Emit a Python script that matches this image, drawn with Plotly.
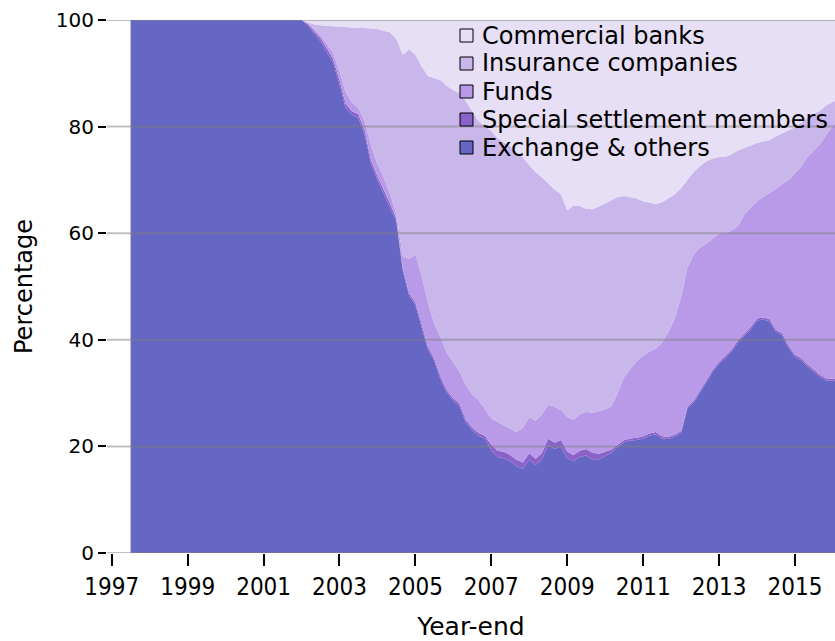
import plotly.graph_objects as go

dates = ["1997-07-01"] + [f"{y}-{m:02d}-01" for y in range(2002, 2016) for m in (1, 3, 5, 7, 9, 11)] + ["2016-01-31"]

exchange = [100, 100, 99.0, 97.5, 96.0, 94.0, 92.0,
            88.0, 83.5, 82.2, 81.6, 78.5, 73.0,
            70.0, 67.5, 65.0, 62.2, 53.0, 48.3,
            46.5, 42.5, 38.2, 36.0, 32.5, 30.0,
            28.5, 27.5, 24.5, 23.0, 22.0, 21.5,
            19.3, 18.0, 17.8, 17.2, 16.3, 15.8,
            17.5, 16.5, 17.5, 20.3, 19.5, 20.0,
            17.8, 17.2, 18.0, 18.3, 17.6, 17.6,
            18.2, 18.8, 19.9, 20.8, 21.1, 21.2,
            21.5, 22.0, 22.3, 21.5, 21.4, 21.8,
            22.5, 27.0, 28.2, 30.0, 32.0, 34.0,
            35.5, 36.5, 37.8, 39.5, 40.8, 42.0,
            43.6, 43.8, 43.5, 41.5, 40.8, 38.5,
            36.8, 36.2, 35.0, 34.0, 33.0, 32.3,
            32.3]

special = [0, 0, 0.3, 0.5, 0.6, 0.7, 0.7,
           0.8, 0.8, 0.7, 0.7, 0.7, 0.7,
           0.7, 0.7, 0.6, 0.5, 0.5, 0.5,
           0.5, 0.5, 0.5, 0.5, 0.5, 0.5,
           0.5, 0.5, 0.5, 0.5, 0.5, 0.5,
           1.0, 1.2, 1.2, 1.2, 1.2, 1.2,
           1.2, 1.2, 1.2, 1.2, 1.2, 1.2,
           1.2, 1.2, 1.2, 1.2, 1.2, 1.0,
           0.8, 0.6, 0.4, 0.4, 0.4, 0.4,
           0.4, 0.4, 0.4, 0.4, 0.4, 0.4,
           0.4, 0.4, 0.4, 0.4, 0.4, 0.4,
           0.4, 0.4, 0.4, 0.4, 0.4, 0.4,
           0.4, 0.4, 0.4, 0.4, 0.4, 0.4,
           0.4, 0.4, 0.4, 0.4, 0.4, 0.4,
           0.4]

funds = [0, 0, 0.2, 0.4, 0.6, 0.9, 1.1,
         1.7, 2.2, 1.6, 1.2, 1.8, 2.8,
         2.3, 2.3, 1.9, 1.0, 2.2, 6.4,
         9.0, 9.0, 8.3, 6.5, 7.5, 7.0,
         6.8, 6.0, 6.5, 6.3, 6.2, 5.0,
         5.0, 5.4, 5.0, 4.9, 5.2, 6.5,
         6.8, 7.1, 7.3, 6.3, 6.8, 5.6,
         6.5, 6.6, 6.8, 7.0, 7.5, 8.0,
         7.9, 8.2, 9.7, 11.8, 13.0, 14.4,
         15.1, 15.4, 15.6, 17.6, 19.7, 21.8,
         25.1, 26.1, 27.4, 26.9, 25.6, 24.6,
         24.1, 23.1, 22.3, 21.4, 22.3, 22.4,
         22.0, 22.6, 23.6, 26.4, 28.1, 31.1,
         34.0, 35.9, 38.9, 41.1, 43.4, 45.8,
         48.3]

insurance = [0, 0, 0.1, 0.8, 1.8, 3.3, 5.0,
             8.2, 12.2, 14.1, 15.0, 17.5, 21.9,
             25.3, 27.5, 30.2, 32.8, 37.8, 39.3,
             37.5, 39.3, 42.5, 46.1, 48.2, 50.1,
             51.0, 52.3, 53.3, 53.1, 52.3, 53.0,
             53.9, 53.2, 53.0, 53.0, 52.5, 50.7,
             47.3, 46.7, 44.5, 41.5, 40.7, 40.5,
             38.8, 40.2, 39.1, 38.1, 38.2, 38.4,
             38.7, 38.7, 36.8, 34.0, 32.3, 30.5,
             29.0, 27.9, 27.2, 26.3, 25.0, 23.3,
             20.5, 16.5, 15.5, 15.3, 15.5, 15.0,
             14.3, 14.3, 14.3, 14.2, 12.5, 11.7,
             10.9, 10.4, 10.0, 9.9, 9.5, 9.4,
             8.7, 8.2, 7.3, 6.8, 6.2, 5.5,
             4.0]

commercial_banks = [0, 0, 0.4, 0.8, 1.0, 1.1, 1.2,
                    1.3, 1.3, 1.4, 1.5, 1.5, 1.6,
                    1.7, 2.0, 2.3, 3.5, 6.5, 5.5,
                    6.5, 8.7, 10.5, 10.9, 11.3, 12.4,
                    13.2, 13.7, 15.2, 17.1, 19.0, 20.0,
                    20.8, 22.2, 23.0, 23.7, 24.8, 25.8,
                    27.2, 28.5, 29.5, 30.7, 31.8, 32.7,
                    35.7, 34.8, 34.9, 35.4, 35.5, 35.0,
                    34.4, 33.7, 33.2, 33.0, 33.2, 33.5,
                    34.0, 34.3, 34.5, 34.2, 33.5, 32.7,
                    31.5, 30.0, 28.5, 27.4, 26.5, 26.0,
                    25.7, 25.7, 25.2, 24.5, 24.0, 23.5,
                    23.1, 22.8, 22.5, 21.8, 21.2, 20.6,
                    20.1, 19.3, 18.4, 17.7, 17.0, 16.0,
                    15.0]

series_names = ["Exchange & others", "Special settlement members", "Funds",
                "Insurance companies", "Commercial banks"]
series_values = [exchange, special, funds, insurance, commercial_banks]
colors = ["#6666c4", "#8a62c9", "#b99ae8", "#c9b6ea", "#e6dff5"]

y_ticks = [0, 20, 40, 60, 80, 100]
x_ticks = [f"{y}-01-01" for y in range(1997, 2017, 2)]
x_labels = [str(y) for y in range(1997, 2017, 2)]

FONT = "DejaVu Sans"
COND = "DejaVu Sans Condensed, Liberation Sans Narrow, DejaVu Sans"

fig = go.Figure()
for name, vals, col in zip(series_names, series_values, colors):
    fig.add_trace(go.Scatter(
        x=dates, y=vals, name=name, mode="lines", stackgroup="one",
        line=dict(width=0, color=col), fillcolor=col, showlegend=False,
        hoverinfo="skip"))

# gridlines drawn above the areas
shapes = [dict(type="line", xref="paper", x0=0, x1=1, yref="y", y0=v, y1=v,
               line=dict(color="rgba(128,128,128,0.5)", width=2), layer="above")
          for v in y_ticks]

# legend (top item = last series), drawn as bordered squares + text
annotations = []
plot_h = 533.0
plot_w = 728.0
for i, (name, col) in enumerate(zip(series_names[::-1], colors[::-1])):
    cy = 1 - (15.5 + 28 * i) / plot_h
    half = 6.5 / plot_h
    shapes.append(dict(type="rect", xref="paper", yref="paper",
                       x0=353 / plot_w, x1=366 / plot_w, y0=cy - half, y1=cy + half,
                       fillcolor=col, line=dict(color="black", width=1), layer="above"))
    annotations.append(dict(xref="paper", yref="paper", x=373 / plot_w, y=cy,
                            xanchor="left", yanchor="middle", showarrow=False,
                            text=name, font=dict(family=FONT, size=24, color="black")))

fig.update_layout(
    width=835, height=641,
    margin=dict(l=107, r=0, t=20, b=88),
    paper_bgcolor="white", plot_bgcolor="white",
    font=dict(family=FONT, size=21, color="black"),
    shapes=shapes, annotations=annotations,
    showlegend=False,
    xaxis=dict(type="date", range=["1996-11-16", "2016-01-21"],
               tickvals=x_ticks, ticktext=x_labels, automargin=False,
               ticks="outside", ticklen=12, tickwidth=1.5, tickcolor="black",
               showgrid=False, zeroline=False, showline=False,
               tickfont=dict(family=COND, size=24),
               title=dict(text="Year-end", font=dict(family=FONT, size=25), standoff=20)),
    yaxis=dict(range=[0, 100], tickvals=y_ticks, automargin=False,
               ticks="outside", ticklen=8, tickwidth=1.5, tickcolor="black",
               showgrid=False, zeroline=False, showline=False,
               tickfont=dict(family=FONT, size=20),
               title=dict(text="Percentage", font=dict(family=FONT, size=24), standoff=16)),
)

fig.write_html("out.html", config={"displayModeBar": False},
               post_script="document.body.style.margin='0';document.body.style.overflow='hidden';")
